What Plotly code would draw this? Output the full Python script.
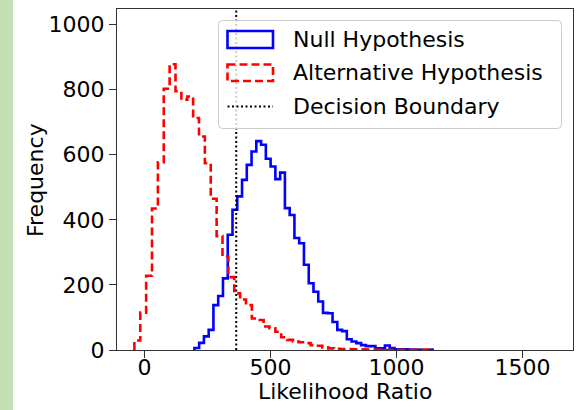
import numpy as np
import plotly.graph_objects as go

# ---- data ----
null_start = 198.0
null_width = 18.9
null_counts = [6, 22, 42, 62, 138, 166, 220, 354, 431, 472,
               523, 569, 610, 642, 631, 588, 564, 525, 545, 436,
               415, 344, 328, 262, 205, 179, 149, 114, 113, 86,
               62, 58, 33, 26, 21, 15, 12, 12, 5, 5,
               14, 6, 3, 2, 2, 1, 1, 1, 0, 1]

alt_start = -40.0
alt_width = 23.3
alt_counts = [29, 115, 228, 435, 577, 803, 878, 795, 769, 779,
              713, 656, 574, 465, 350, 287, 224, 174, 155, 138,
              97, 92, 72, 67, 56, 39, 31, 26, 24, 21,
              15, 13, 8, 5, 4, 3, 3, 2, 2, 1,
              1, 1, 0, 1, 0, 1, 0, 0, 0, 1]

decision_boundary = 364.0
x_ticks = [0, 500, 1000, 1500]
y_ticks = [0, 200, 400, 600, 800, 1000]
x_range = [-109, 1700]
y_range = [0, 1048]
labels = ["Null Hypothesis", "Alternative Hypothesis", "Decision Boundary"]


def step_path(start, width, counts):
    edges = start + width * np.arange(len(counts) + 1)
    xs = [edges[0]]
    ys = [0]
    for i, c in enumerate(counts):
        xs += [edges[i], edges[i + 1]]
        ys += [c, c]
    xs.append(edges[-1])
    ys.append(0)
    return xs, ys


W, H = 577, 410
ML, MR, MT, MB = 117, 4, 9, 60
PW, PH = W - ML - MR, H - MT - MB


def px(x):
    return (x - ML) / PW


def py(y):
    return (H - MB - y) / PH


FONT = "DejaVu Sans"
fig = go.Figure()

nx, ny = step_path(null_start, null_width, null_counts)
ax, ay = step_path(alt_start, alt_width, alt_counts)

fig.add_trace(go.Scatter(x=nx, y=ny, mode="lines", name=labels[0],
                         line=dict(color="#0000ff", width=2.6),
                         showlegend=False, hoverinfo="skip"))
fig.add_trace(go.Scatter(x=ax, y=ay, mode="lines", name=labels[1],
                         line=dict(color="#ff0000", width=2.6, dash="8px,4px"),
                         showlegend=False, hoverinfo="skip"))

shapes = []
# decision boundary (full height of axes)
shapes.append(dict(type="line", xref="x", yref="paper",
                   x0=decision_boundary, x1=decision_boundary, y0=0, y1=1,
                   line=dict(color="black", width=2, dash="2px,2.5px"),
                   layer="above"))

# left green strip
shapes.append(dict(type="rect", xref="paper", yref="paper",
                   x0=px(0), x1=px(13), y0=py(H), y1=py(0),
                   fillcolor="#c5e0b4", line=dict(width=0), layer="below"))

# legend frame (rounded)
lx0, lx1, ly0, ly1, r = 218.5, 561.5, 20.5, 128.5, 4
path = (f"M {px(lx0 + r)},{py(ly0)} L {px(lx1 - r)},{py(ly0)} "
        f"Q {px(lx1)},{py(ly0)} {px(lx1)},{py(ly0 + r)} "
        f"L {px(lx1)},{py(ly1 - r)} Q {px(lx1)},{py(ly1)} {px(lx1 - r)},{py(ly1)} "
        f"L {px(lx0 + r)},{py(ly1)} Q {px(lx0)},{py(ly1)} {px(lx0)},{py(ly1 - r)} "
        f"L {px(lx0)},{py(ly0 + r)} Q {px(lx0)},{py(ly0)} {px(lx0 + r)},{py(ly0)} Z")
shapes.append(dict(type="path", xref="paper", yref="paper", path=path,
                   fillcolor="rgba(255,255,255,0.8)",
                   line=dict(color="#cccccc", width=1), layer="above"))

# legend handles
hx0, hx1 = 227.5, 273
shapes.append(dict(type="rect", xref="paper", yref="paper",
                   x0=px(hx0), x1=px(hx1), y0=py(31), y1=py(48),
                   line=dict(color="#0000ff", width=2.6), fillcolor="rgba(0,0,0,0)",
                   layer="above"))
shapes.append(dict(type="rect", xref="paper", yref="paper",
                   x0=px(hx0), x1=px(hx1), y0=py(64.5), y1=py(81),
                   line=dict(color="#ff0000", width=2.6, dash="8px,4px"),
                   fillcolor="rgba(0,0,0,0)", layer="above"))
shapes.append(dict(type="line", xref="paper", yref="paper",
                   x0=px(hx0), x1=px(hx1), y0=py(106.5), y1=py(106.5),
                   line=dict(color="black", width=2, dash="2px,2.5px"),
                   layer="above"))

annotations = []
for lab, yy in zip(labels, [39.5, 72.8, 106.5]):
    annotations.append(dict(text=lab, xref="paper", yref="paper",
                            x=px(291), y=py(yy), xanchor="left", yanchor="middle",
                            showarrow=False,
                            font=dict(family=FONT, size=22, color="black")))
annotations.append(dict(text="Likelihood Ratio", xref="paper", yref="paper",
                        x=px(345.3), y=py(392), xanchor="center", yanchor="middle",
                        showarrow=False,
                        font=dict(family=FONT, size=22, color="black")))
annotations.append(dict(text="Frequency", xref="paper", yref="paper",
                        x=px(35), y=py(180), xanchor="center", yanchor="middle",
                        textangle=-90, showarrow=False,
                        font=dict(family=FONT, size=22, color="black")))

axis_common = dict(showline=True, mirror=True, linecolor="#333333", linewidth=1.3,
                   ticks="outside", ticklen=7, tickwidth=1.3, tickcolor="#333333",
                   showgrid=False, zeroline=False,
                   tickfont=dict(family=FONT, size=22, color="black"))

fig.update_layout(
    width=W, height=H,
    margin=dict(l=ML, r=MR, t=MT, b=MB, pad=0),
    paper_bgcolor="white", plot_bgcolor="white",
    xaxis=dict(range=x_range, tickvals=x_ticks, ticklabelstandoff=-10, **axis_common),
    yaxis=dict(range=y_range, tickvals=y_ticks, **axis_common),
    shapes=shapes, annotations=annotations, showlegend=False,
    font=dict(family=FONT, size=22, color="black"),
)

fig.write_html("out.html")
